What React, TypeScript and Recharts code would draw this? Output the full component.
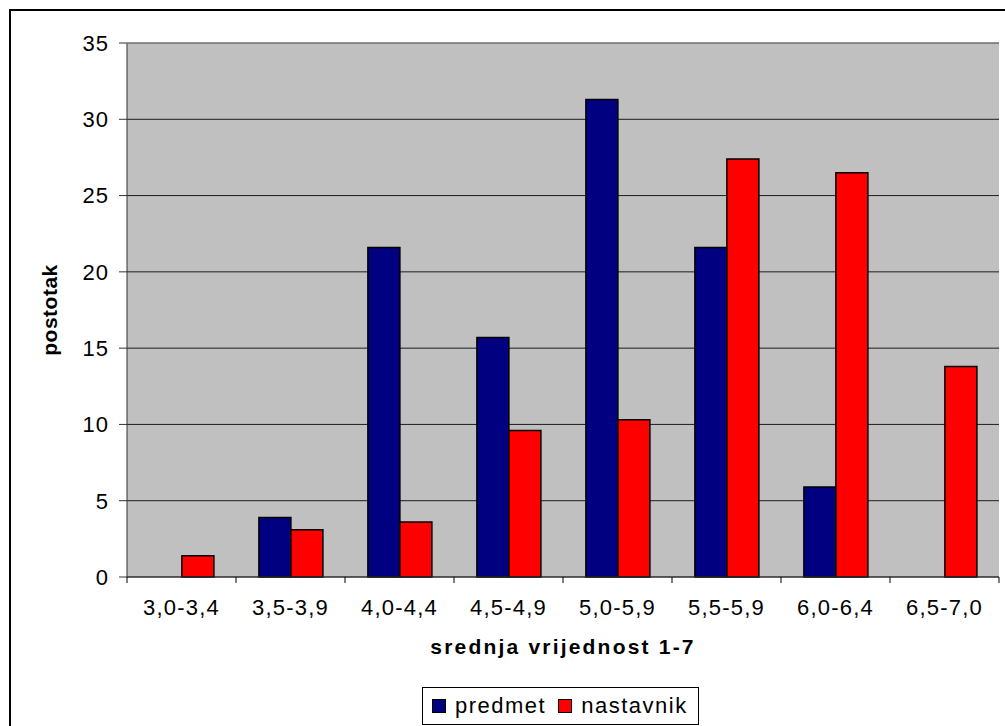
import React from "react";
import {
  BarChart,
  Bar,
  XAxis,
  YAxis,
  CartesianGrid,
  Legend,
} from "recharts";

const categories = [
  "3,0-3,4",
  "3,5-3,9",
  "4,0-4,4",
  "4,5-4,9",
  "5,0-5,9",
  "5,5-5,9",
  "6,0-6,4",
  "6,5-7,0",
];
const predmet = [0, 3.9, 21.6, 15.7, 31.3, 21.6, 5.9, 0];
const nastavnik = [1.4, 3.1, 3.6, 9.6, 10.3, 27.4, 26.5, 13.8];
const yTicks = [0, 5, 10, 15, 20, 25, 30, 35];

const data = categories.map((name, i) => ({
  name,
  predmet: predmet[i],
  nastavnik: nastavnik[i],
}));

const W = 1005;
const H = 726;
const LEFT = 127;
const RIGHT = 6;
const TOP = 43;
const X_AXIS_H = 149;
const BAND = (W - LEFT - RIGHT) / categories.length;
const FONT = '"Liberation Sans", Arial, sans-serif';

const CategoryTick = (props: any) => {
  const { x, y, payload, index } = props;
  const half = BAND / 2;
  return (
    <g>
      <line x1={x - half} y1={y} x2={x - half} y2={y + 6} stroke="#000" />
      {index === categories.length - 1 && (
        <line x1={x + half} y1={y} x2={x + half} y2={y + 6} stroke="#000" />
      )}
      <text
        x={x}
        y={y + 38}
        textAnchor="middle"
        fontSize={22}
        letterSpacing={1.2}
        fill="#000"
        fontFamily={FONT}
      >
        {payload.value}
      </text>
    </g>
  );
};

const XTitle = (props: any) => {
  const { viewBox } = props;
  return (
    <text
      x={viewBox.x + viewBox.width / 2}
      y={654}
      textAnchor="middle"
      fontSize={21}
      fontWeight="bold"
      letterSpacing={2.2}
      fill="#000"
      fontFamily={FONT}
    >
      srednja vrijednost 1-7
    </text>
  );
};

const YTitle = (props: any) => {
  const { viewBox } = props;
  const cx = viewBox.x + 49;
  const cy = viewBox.y + viewBox.height / 2;
  return (
    <text
      x={cx}
      y={cy}
      transform={`rotate(-90 ${cx} ${cy})`}
      textAnchor="middle"
      dominantBaseline="central"
      fontSize={21}
      fontWeight="bold"
      letterSpacing={0.5}
      fill="#000"
      fontFamily={FONT}
    >
      postotak
    </text>
  );
};

const LegendBox = () => (
  <div
    style={{
      border: "1px solid #000",
      background: "#fff",
      height: 36,
      width: 275,
      display: "flex",
      alignItems: "center",
      fontFamily: FONT,
      fontSize: 22,
      letterSpacing: 1.5,
      color: "#000",
    }}
  >
    <span
      style={{
        display: "inline-block",
        width: 12,
        height: 12,
        background: "#000080",
        border: "1px solid #000",
        marginLeft: 9,
        marginRight: 9,
      }}
    />
    <span>predmet</span>
    <span
      style={{
        display: "inline-block",
        width: 12,
        height: 12,
        background: "#FF0000",
        border: "1px solid #000",
        marginLeft: 12,
        marginRight: 9,
      }}
    />
    <span>nastavnik</span>
  </div>
);

export default function App() {
  return (
    <div
      style={{
        position: "fixed",
        left: 0,
        top: 0,
        width: W,
        height: H,
        overflow: "hidden",
        background: "#fff",
      }}
    >
      <div
        style={{
          position: "absolute",
          left: 9,
          top: 9,
          width: 1010,
          height: 730,
          border: "2px solid #000",
        }}
      />
      <div style={{ position: "absolute", left: 0, top: 0 }}>
        <BarChart
          width={W}
          height={H}
          data={data}
          margin={{ top: TOP, right: RIGHT, bottom: 0, left: 0 }}
          barCategoryGap="21%"
          barGap={0}
          style={{ fontFamily: FONT }}
        >
          <CartesianGrid
            vertical={false}
            fill="#C0C0C0"
            fillOpacity={1}
            stroke="#000"
            strokeOpacity={0.85}
          />
          <XAxis
            dataKey="name"
            height={X_AXIS_H}
            interval={0}
            tickLine={false}
            tickSize={0}
            tickMargin={0}
            tick={<CategoryTick />}
            axisLine={{ stroke: "#333" }}
            label={{ content: <XTitle /> }}
          />
          <YAxis
            width={LEFT}
            domain={[0, 35]}
            ticks={yTicks}
            interval={0}
            tickSize={8}
            tickMargin={10}
            tickLine={{ stroke: "#333" }}
            axisLine={{ stroke: "#333" }}
            tick={{ fill: "#000", fontSize: 22, letterSpacing: 1 }}
            label={{ content: <YTitle /> }}
          />
          <Legend
            verticalAlign="middle"
            align="center"
            content={<LegendBox />}
            wrapperStyle={{ left: 422, top: 687, width: 277, height: 38 }}
          />
          <Bar
            dataKey="predmet"
            name="predmet"
            fill="#000080"
            stroke="#000"
            strokeWidth={1.5}
            isAnimationActive={false}
          />
          <Bar
            dataKey="nastavnik"
            name="nastavnik"
            fill="#FF0000"
            stroke="#000"
            strokeWidth={1.5}
            isAnimationActive={false}
          />
        </BarChart>
      </div>
      <div
        style={{
          position: "absolute",
          left: LEFT,
          top: TOP,
          width: W - LEFT - RIGHT,
          height: 1,
          background: "#808080",
        }}
      />
    </div>
  );
}
